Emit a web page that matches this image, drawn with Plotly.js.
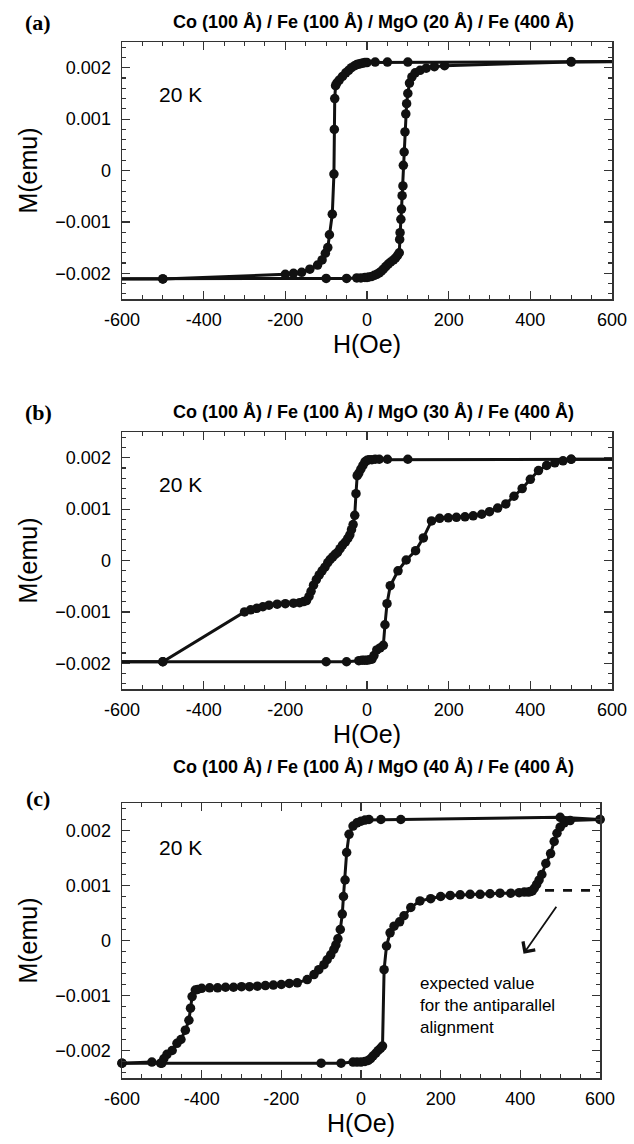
<!DOCTYPE html>
<html><head><meta charset="utf-8">
<script src="https://cdn.plot.ly/plotly-3.0.1.min.js"></script>
<style>html,body{margin:0;padding:0;background:#fff}</style>
</head><body><div id="chart" style="width:634px;height:1144px"></div>
<script>
// ---- tick labels ----
const xTickVals = [-600, -400, -200, 0, 200, 400, 600];
const xTickText = ['-600', '-400', '-200', '0', '200', '400', '600'];
const yTickVals = [-0.002, -0.001, 0, 0.001, 0.002];
const yTickText = ['\u22120.002', '\u22120.001', '0', '0.001', '0.002'];

// ---- panel titles ----
const panelLetters = ['(a)', '(b)', '(c)'];
const panelTitles = [
  'Co (100 \u00c5) / Fe (100 \u00c5) / MgO (20 \u00c5) / Fe (400 \u00c5)',
  'Co (100 \u00c5) / Fe (100 \u00c5) / MgO (30 \u00c5) / Fe (400 \u00c5)',
  'Co (100 \u00c5) / Fe (100 \u00c5) / MgO (40 \u00c5) / Fe (400 \u00c5)'
];
const tempLabel = '20 K';

// ---- panel (a): MgO 20 A ----
const aDescH = [800,500,100,50,20,0,-5,-10,-15,-20,-25,-30,-38,-45,-52,-60,-68,-74,-77,-79,-80,-81,-85,-92,-96,-102,-110,-121,-140,-160,-180,-200,-500,-800];
const aDescM = [0.00213,0.00212,0.00211,0.00211,0.00211,0.0021,0.0021,0.00209,0.00208,0.00207,0.00206,0.00204,0.002,0.00195,0.0019,0.00183,0.00176,0.0017,0.00165,0.0014,0.0008,-0.00007,-0.00085,-0.00125,-0.0015,-0.00161,-0.00174,-0.00184,-0.00192,-0.00198,-0.002,-0.00202,-0.00211,-0.00211];
const aAscH = [-800,-500,-100,-50,-25,-15,-5,0,5,12,18,24,30,35,40,46,52,58,65,70,75,79,80,81,83,84.5,86,88,89,91,93,95,97,100,104,110,118,130,145,165,190,500,800];
const aAscM = [-0.00211,-0.00211,-0.0021,-0.0021,-0.00209,-0.00209,-0.00208,-0.00208,-0.00207,-0.00206,-0.00204,-0.00202,-0.00199,-0.00196,-0.00192,-0.00187,-0.00182,-0.00178,-0.00174,-0.0017,-0.00165,-0.0016,-0.00134,-0.00121,-0.00095,-0.00075,-0.00049,-0.0003,0.0001,0.00036,0.00075,0.0011,0.0013,0.0015,0.0017,0.00182,0.0019,0.00195,0.00199,0.00202,0.00204,0.00211,0.00213];

// ---- panel (b): MgO 30 A ----
const bDescH = [800,500,100,50,30,20,12,5,0,-5,-10,-15,-20,-24,-27,-30,-34,-38,-42,-47,-53,-60,-66,-72,-78,-84,-90,-96,-103,-110,-117,-124,-131,-137,-142,-148,-155,-165,-180,-200,-220,-240,-255,-270,-285,-300,-500,-800];
const bDescM = [0.00197,0.00197,0.00197,0.00197,0.00197,0.00197,0.00196,0.00196,0.00195,0.00192,0.00185,0.00178,0.0017,0.00165,0.0013,0.00088,0.0007,0.0006,0.0005,0.00043,0.00036,0.0003,0.00023,0.00016,0.00012,0.00007,0.00002,-0.00004,-0.00013,-0.0002,-0.00028,-0.00037,-0.00048,-0.0006,-0.0007,-0.00078,-0.0008,-0.00082,-0.00083,-0.00084,-0.00085,-0.00087,-0.0009,-0.00093,-0.00096,-0.001,-0.00197,-0.00197];
const bAscH = [-800,-500,-100,-50,-20,-12,-6,0,6,12,17,24,32,40,44,49,57,76,96,119,138,158,178,199,219,240,260,281,300,320,340,360,380,400,420,440,460,480,500,800];
const bAscM = [-0.00197,-0.00197,-0.00197,-0.00197,-0.00195,-0.00194,-0.00194,-0.00194,-0.00193,-0.00192,-0.00185,-0.00174,-0.0017,-0.00165,-0.00125,-0.00084,-0.00049,-0.0002,0.00001,0.00019,0.00044,0.00077,0.00082,0.00083,0.00084,0.00085,0.00087,0.0009,0.00095,0.00102,0.0011,0.00125,0.0014,0.00158,0.00175,0.00185,0.0019,0.00194,0.00197,0.00197];

// ---- panel (c): MgO 40 A ----
const cDescH = [600,500,100,50,20,10,0,-10,-20,-30,-36,-40,-44,-47,-52,-58,-63,-68,-76,-85,-93,-106,-118,-135,-160,-180,-200,-220,-240,-260,-280,-300,-320,-340,-360,-380,-400,-410,-416,-424,-428,-432,-441,-452,-462,-474,-487,-495,-503,-525,-600];
const cDescM = [0.0022,0.00224,0.0022,0.0022,0.0022,0.00219,0.00217,0.00214,0.00208,0.00193,0.0016,0.0011,0.0008,0.00048,0.0002,0.00003,-0.00008,-0.00016,-0.00026,-0.00035,-0.00044,-0.00053,-0.00062,-0.00071,-0.00077,-0.00078,-0.0008,-0.00081,-0.00082,-0.00083,-0.00084,-0.00084,-0.00085,-0.00085,-0.00086,-0.00086,-0.00087,-0.00089,-0.0009,-0.00102,-0.00123,-0.00145,-0.00163,-0.0018,-0.00187,-0.002,-0.00207,-0.00215,-0.00223,-0.00221,-0.00223];
const cAscH = [-600,-500,-100,-50,-20,-10,0,10,18,24,30,37,43,49,54,58,64,73,83,97,108,125,148,175,200,224,249,274,299,324,349,376,397,410,420,425,430,435,441,447,454,464,476,485,492,500,510,525,600];
const cAscM = [-0.00223,-0.00223,-0.00223,-0.00223,-0.00221,-0.00221,-0.00221,-0.0022,-0.00218,-0.00215,-0.0021,-0.00205,-0.002,-0.00196,-0.00192,-0.00053,-0.0001,0.00014,0.00026,0.00034,0.00045,0.0006,0.00072,0.00076,0.0008,0.00082,0.00083,0.00084,0.00084,0.00085,0.00086,0.00086,0.00087,0.00088,0.00088,0.00089,0.0009,0.00095,0.00102,0.0011,0.0012,0.0014,0.00158,0.0018,0.00195,0.00206,0.00214,0.00218,0.0022];
// expected antiparallel value (dashed)
const expectedH = [462, 600];
const expectedM = [0.00091, 0.00091];
const expectedNote = 'expected value<br>for the antiparallel<br>alignment';

// ---- layout geometry (pixels) ----
const W = 634, H = 1144;
const boxes = [
  {l:122, r:612, t:42, b:299, titleY:22},
  {l:122, r:612, t:432, b:689, titleY:412},
  {l:122, r:600, t:803, b:1078, titleY:767, letterY:798}
];
const SANS = 'Liberation Sans, Arial, Helvetica, sans-serif';
const SERIF = 'Liberation Serif, Times New Roman, serif';
const INK = '#111';

function xa(i){
  const bx = boxes[i];
  return {
    domain:[bx.l/W, bx.r/W], anchor: i===0?'y':'y'+(i+1),
    range:[-600,600], tickmode:'array', tickvals:xTickVals, ticktext:xTickText,
    ticks:'inside', ticklen:8, tickwidth:1.2, tickcolor:'#333',
    showline:true, linecolor:'#333', linewidth:1.5, mirror:'allticks',
    showgrid:false, zeroline:false, ticklabelstandoff:4,
    tickfont:{family:SANS, size:18, color:'#000'},
    minor:{dtick:50, tick0:0, ticks:'inside', ticklen:4, tickwidth:1.1, tickcolor:'#333', showgrid:false},
    title:{text:'H(Oe)', font:{family:SANS, size:25, color:'#000'}, standoff:5}
  };
}
function ya(i){
  const bx = boxes[i];
  return {
    domain:[1-bx.b/H, 1-bx.t/H], anchor: i===0?'x':'x'+(i+1),
    range:[-0.0025,0.0025], tickmode:'array', tickvals:yTickVals, ticktext:yTickText,
    ticks:'inside', ticklen:8, tickwidth:1.2, tickcolor:'#333',
    showline:true, linecolor:'#333', linewidth:1.5, mirror:'allticks',
    showgrid:false, zeroline:false, ticklabelstandoff:6,
    tickfont:{family:SANS, size:18, color:'#000'},
    minor:{dtick:0.0002, tick0:0, ticks:'inside', ticklen:4, tickwidth:1.1, tickcolor:'#333', showgrid:false},
    title:{text:'M(emu)', font:{family:SANS, size:25, color:'#000'}, standoff:10}
  };
}
function series(h, m, i, clip){
  return {x:h, y:m, xaxis: i===0?'x':'x'+(i+1), yaxis: i===0?'y':'y'+(i+1),
    mode:'lines+markers', line:{color:INK, width:3},
    marker:{color:INK, size:9.5}, cliponaxis:clip, showlegend:false, hoverinfo:'skip'};
}
const data = [
  series(aDescH, aDescM, 0, true), series(aAscH, aAscM, 0, true),
  series(bDescH, bDescM, 1, true), series(bAscH, bAscM, 1, true),
  series(cDescH, cDescM, 2, false), series(cAscH, cAscM, 2, false),
  {x:expectedH, y:expectedM, xaxis:'x3', yaxis:'y3', mode:'lines',
   line:{color:INK, width:2.8, dash:'dash'}, showlegend:false, hoverinfo:'skip'}
];

const annotations = [];
boxes.forEach((bx,i)=>{
  const ly = bx.letterY !== undefined ? bx.letterY : bx.titleY;
  annotations.push({xref:'paper', yref:'paper', x:38/W, y:1-ly/H, xanchor:'center', yanchor:'middle',
    text:'<b>'+panelLetters[i]+'</b>', showarrow:false, font:{family:SERIF, size:22, color:'#000'}});
  annotations.push({xref:'paper', yref:'paper', x:373/W, y:1-bx.titleY/H, xanchor:'center', yanchor:'middle',
    text:'<b>'+panelTitles[i]+'</b>', showarrow:false, font:{family:SANS, size:18, color:'#000'}});
  annotations.push({xref:'paper', yref:'paper', x:157/W, y:1-(i===2?847:(i===0?95:484))/H, xanchor:'left', yanchor:'middle',
    text:tempLabel, showarrow:false, font:{family:SANS, size:21, color:'#000'}});
});
annotations.push({xref:'x3', yref:'y3', x:144, y:-0.00058, xanchor:'left', yanchor:'top',
  text:expectedNote, align:'left', showarrow:false, font:{family:SANS, size:17, color:'#000'}});
annotations.push({xref:'x3', yref:'y3', axref:'x3', ayref:'y3', x:408, y:-0.00024, ax:493, ay:0.00064,
  text:'', showarrow:true, arrowhead:4, arrowsize:1.6, arrowwidth:1.8, arrowcolor:INK});

const layout = {
  width:W, height:H, margin:{l:0, r:0, t:0, b:0},
  paper_bgcolor:'#fff', plot_bgcolor:'#fff',
  xaxis:xa(0), yaxis:ya(0), xaxis2:xa(1), yaxis2:ya(1), xaxis3:xa(2), yaxis3:ya(2),
  annotations:annotations
};
Plotly.newPlot('chart', data, layout, {displayModeBar:false, staticPlot:true});
</script></body></html>
